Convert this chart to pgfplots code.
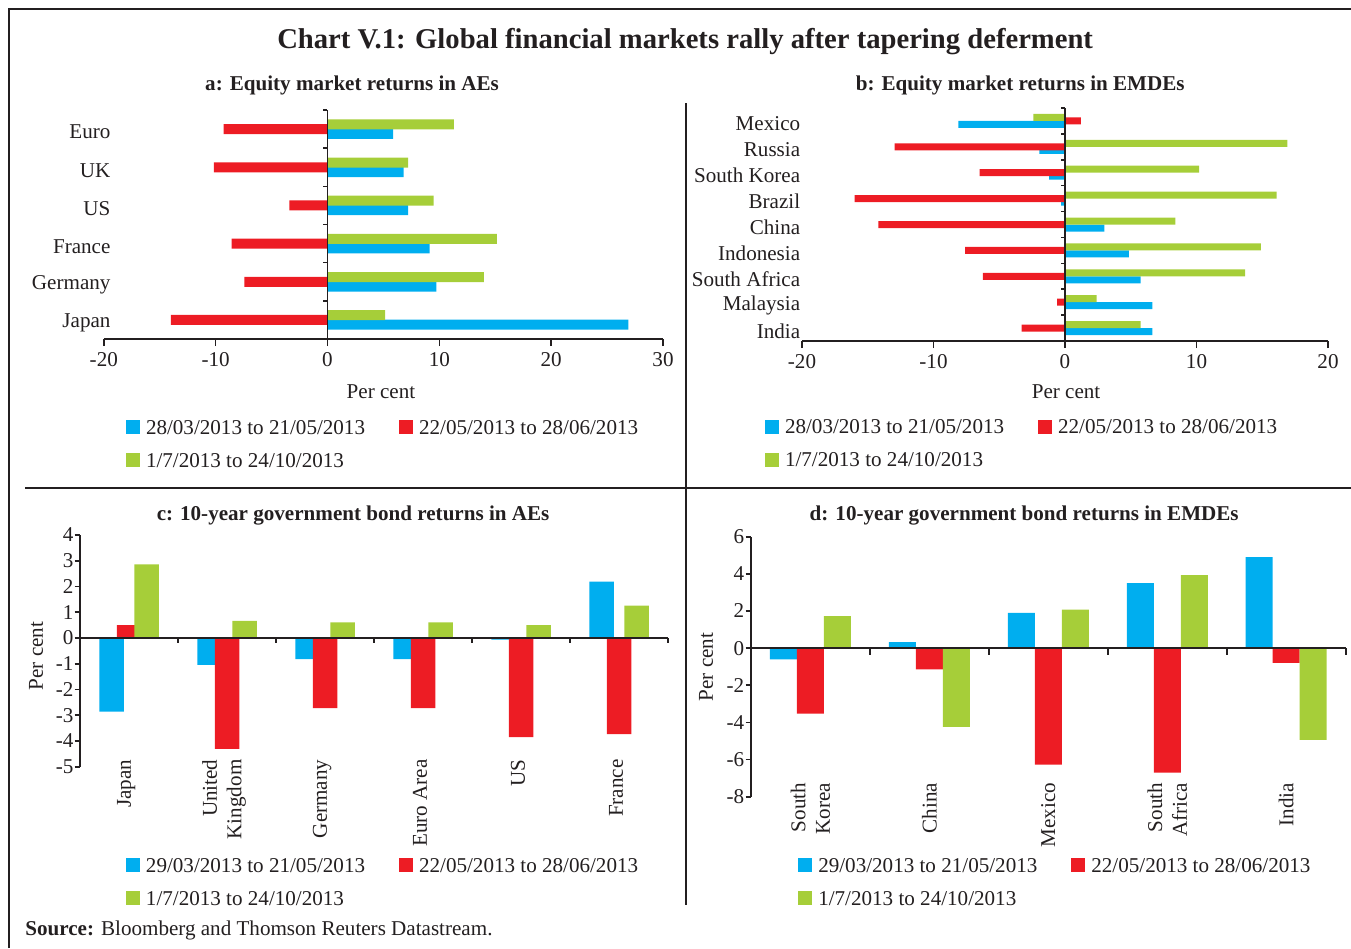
\documentclass[border=0pt]{standalone}
\usepackage{fontspec}
\setmainfont{Liberation Serif}
\usepackage{pgfplots}
\pgfplotsset{compat=1.18}

\definecolor{cblue}{HTML}{00AEEF}
\definecolor{cred}{HTML}{ED1C24}
\definecolor{cgreen}{HTML}{A6CE39}
\definecolor{cline}{HTML}{231F20}

\newcommand\lbl{\fontsize{12}{14}\selectfont}

\pgfplotsset{
  rbi/.style={
    scale only axis, enlargelimits=false, clip=false,
    axis line style={cline, line width=0.9pt},
    tick style={cline, line width=0.9pt},
    tick align=outside,
    tick label style={font=\lbl, text=cline},
    label style={font=\lbl, text=cline},
    /pgf/number format/assume math mode=true,
    legend columns=2,
    legend cell align=left,
    legend style={draw=none, fill=none, font=\lbl, text=cline, anchor=north west,
      inner sep=0pt, outer sep=0pt,
      nodes={inner sep=0pt, outer sep=0pt, text height=0.28cm, text depth=0pt},
      row sep=0.38cm,
      /tikz/every odd column/.append style={column sep=0.12cm},
      /tikz/every even column/.append style={column sep=0.68cm}},
  },
  sqleg/.style={legend image code/.code={\fill[##1] (0cm,-0.14cm) rectangle (0.28cm,0.14cm);}},
  pblue/.style={fill=cblue, draw=none},
  pred/.style={fill=cred, draw=none},
  pgreen/.style={fill=cgreen, draw=none},
}

\begin{document}
\begin{tikzpicture}
\useasboundingbox (0,0) rectangle (27.02cm,-18.96cm);
\begin{scope}[x=0.02cm, y=-0.02cm]
  \draw[cline, line width=1pt] (9,948) -- (9,9) -- (1351,9);
  \draw[cline, line width=1pt] (686,103) -- (686,905);
  \draw[cline, line width=1pt] (25,488) -- (1351,488);
  \node[font=\fontsize{16.3}{19}\selectfont\bfseries, text=cline] at (685,42)
    {Chart V.1: Global financial markets rally after tapering deferment};
  \node[font=\lbl\bfseries, text=cline] at (352,85) {a: Equity market returns in AEs};
  \node[font=\lbl\bfseries, text=cline] at (1020,85) {b: Equity market returns in EMDEs};
  \node[font=\lbl\bfseries, text=cline] at (353,515) {c: 10-year government bond returns in AEs};
  \node[font=\lbl\bfseries, text=cline] at (1024,515) {d: 10-year government bond returns in EMDEs};
  \node[anchor=base west, font=\lbl, text=cline, inner sep=0pt] at (25,935)
    {\textbf{Source:} Bloomberg and Thomson Reuters Datastream.};
\end{scope}

% a: equity AEs
\begin{axis}[rbi,
  at={(2.076cm,-6.78cm)}, anchor=south west,
  width=11.184cm, height=4.58cm,
  xbar, bar width=0.2cm, sqleg,
  xmin=-20, xmax=30, ymin=-0.5, ymax=5.5,
  axis x line*=bottom, axis y line*=left,
  y axis line style={draw=none},
  xtick={-20,-10,0,10,20,30},
  major tick length=0.14cm,
  ytick={0,...,5}, yticklabels={Japan,Germany,France,US,UK,Euro},
  ytick style={draw=none},
  yticklabel style={anchor=east, inner sep=0pt, xshift=0.28cm, yshift=-0.06cm},
  xlabel={Per cent}, xlabel style={at={(axis description cs:0.4957,-0.231)}, anchor=center},
  legend style={at={(0.0397,-0.3537)}},
]
\addplot[pblue, bar shift=-0.095cm] coordinates {(26.9,0) (9.73,1) (9.13,2) (7.2,3) (6.8,4) (5.87,5)};
\addplot[pred, bar shift=0cm] coordinates {(-14.0,0) (-7.42,1) (-8.56,2) (-3.4,3) (-10.15,4) (-9.28,5)};
\addplot[pgreen, bar shift=0.095cm] coordinates {(5.15,0) (13.98,1) (15.15,2) (9.5,3) (7.2,4) (11.3,5)};
\draw[cline, line width=0.9pt] (axis cs:0,-0.5) -- (axis cs:0,5.5);
\pgfplotsinvokeforeach{0.5,1.5,2.5,3.5,4.5,5.5}{\draw[cline, line width=0.9pt] (axis cs:0,#1) -- ++(-0.08cm,0pt);}
\legend{28/03/2013 to 21/05/2013, 22/05/2013 to 28/06/2013, 1/7/2013 to 24/10/2013}
\end{axis}

% b: equity EMDEs
\begin{axis}[rbi,
  at={(16.04cm,-6.82cm)}, anchor=south west,
  width=10.52cm, height=4.66cm,
  xbar, bar width=0.14cm, sqleg,
  xmin=-20, xmax=20, ymin=-0.5, ymax=8.5,
  axis x line*=bottom, axis y line*=left,
  y axis line style={draw=none},
  xtick={-20,-10,0,10,20},
  major tick length=0.14cm,
  ytick={0,...,8}, yticklabels={India,Malaysia,South Africa,Indonesia,China,Brazil,South Korea,Russia,Mexico},
  ytick style={draw=none},
  yticklabel style={anchor=east, inner sep=0pt, xshift=0.11cm, yshift=-0.06cm},
  xlabel={Per cent}, xlabel style={at={(axis description cs:0.502,-0.219)}, anchor=center},
  legend style={at={(-0.0703,-0.339)}},
]
\addplot[pblue, bar shift=-0.07cm] coordinates {(6.65,0) (6.65,1) (5.75,2) (4.85,3) (3.0,4) (-0.3,5) (-1.2,6) (-1.95,7) (-8.1,8)};
\addplot[pred, bar shift=0cm] coordinates {(-3.3,0) (-0.6,1) (-6.25,2) (-7.6,3) (-14.2,4) (-16.0,5) (-6.5,6) (-12.95,7) (1.2,8)};
\addplot[pgreen, bar shift=0.07cm] coordinates {(5.75,0) (2.4,1) (13.7,2) (14.9,3) (8.4,4) (16.1,5) (10.2,6) (16.9,7) (-2.4,8)};
\draw[cline, line width=0.9pt] (axis cs:0,-0.5) -- (axis cs:0,8.5);
\pgfplotsinvokeforeach{0.5,1.5,2.5,3.5,4.5,5.5,6.5,7.5,8.5}{\draw[cline, line width=0.9pt] (axis cs:0,#1) -- ++(-0.08cm,0pt);}
\legend{28/03/2013 to 21/05/2013, 22/05/2013 to 28/06/2013, 1/7/2013 to 24/10/2013}
\end{axis}

% c: bonds AEs
\begin{axis}[rbi,
  at={(1.604cm,-15.334cm)}, anchor=south west,
  width=11.756cm, height=4.634cm,
  ybar, bar width=0.49cm, sqleg,
  xmin=-0.5, xmax=5.5, ymin=-5, ymax=4,
  axis x line*=bottom, axis y line*=left,
  x axis line style={draw=none},
  xtick={0,...,5}, xticklabels={Japan,{United\\Kingdom},Germany,Euro Area,US,France},
  xtick style={draw=none},
  xticklabel style={yshift=0.26cm, xshift=-0.06cm, rotate=90, anchor=east, align=right, inner sep=0pt},
  ytick={-5,...,4},
  major tick length=0.11cm,
  yticklabel style={inner sep=0pt, xshift=-0.02cm},
  ylabel={Per cent}, ylabel style={at={(axis description cs:-0.0752,0.478)}, anchor=center},
  legend style={at={(0.0779,-0.394)}},
]
\addplot[pblue, bar shift=-0.35cm] coordinates {(0,-2.86) (1,-1.04) (2,-0.82) (3,-0.82) (4,-0.06) (5,2.19)};
\addplot[pred, bar shift=0cm] coordinates {(0,0.5) (1,-4.31) (2,-2.72) (3,-2.72) (4,-3.85) (5,-3.73)};
\addplot[pgreen, bar shift=0.35cm] coordinates {(0,2.86) (1,0.66) (2,0.61) (3,0.61) (4,0.5) (5,1.26)};
\draw[cline, line width=0.9pt] (axis cs:-0.5,0) -- (axis cs:5.5,0);
\pgfplotsinvokeforeach{0.5,1.5,2.5,3.5,4.5,5.5}{\draw[cline, line width=0.9pt] (axis cs:#1,0) -- ++(0pt,-0.1cm);}
\legend{29/03/2013 to 21/05/2013, 22/05/2013 to 28/06/2013, 1/7/2013 to 24/10/2013}
\end{axis}

% d: bonds EMDEs
\begin{axis}[rbi,
  at={(15.02cm,-15.934cm)}, anchor=south west,
  width=11.894cm, height=5.2cm,
  ybar, bar width=0.54cm, sqleg,
  xmin=-0.5, xmax=4.5, ymin=-8, ymax=6,
  axis x line*=bottom, axis y line*=left,
  x axis line style={draw=none},
  xtick={0,...,4}, xticklabels={{South\\Korea},China,Mexico,{South\\Africa},India},
  xtick style={draw=none},
  xticklabel style={yshift=0.394cm, rotate=90, anchor=east, align=right, inner sep=0pt},
  ytick={-8,-6,...,6},
  major tick length=0.11cm,
  yticklabel style={inner sep=0pt, xshift=-0.02cm},
  ylabel={Per cent}, ylabel style={at={(axis description cs:-0.0757,0.499)}, anchor=center},
  legend style={at={(0.0795,-0.2358)}},
]
\addplot[pblue, bar shift=-0.54cm] coordinates {(0,-0.61) (1,0.32) (2,1.9) (3,3.5) (4,4.9)};
\addplot[pred, bar shift=0cm] coordinates {(0,-3.52) (1,-1.15) (2,-6.27) (3,-6.7) (4,-0.79)};
\addplot[pgreen, bar shift=0.54cm] coordinates {(0,1.72) (1,-4.24) (2,2.08) (3,3.93) (4,-4.94)};
\draw[cline, line width=0.9pt] (axis cs:-0.5,0) -- (axis cs:4.5,0);
\pgfplotsinvokeforeach{0.5,1.5,2.5,3.5,4.5}{\draw[cline, line width=0.9pt] (axis cs:#1,0) -- ++(0pt,-0.14cm);}
\legend{29/03/2013 to 21/05/2013, 22/05/2013 to 28/06/2013, 1/7/2013 to 24/10/2013}
\end{axis}
\end{tikzpicture}
\end{document}
